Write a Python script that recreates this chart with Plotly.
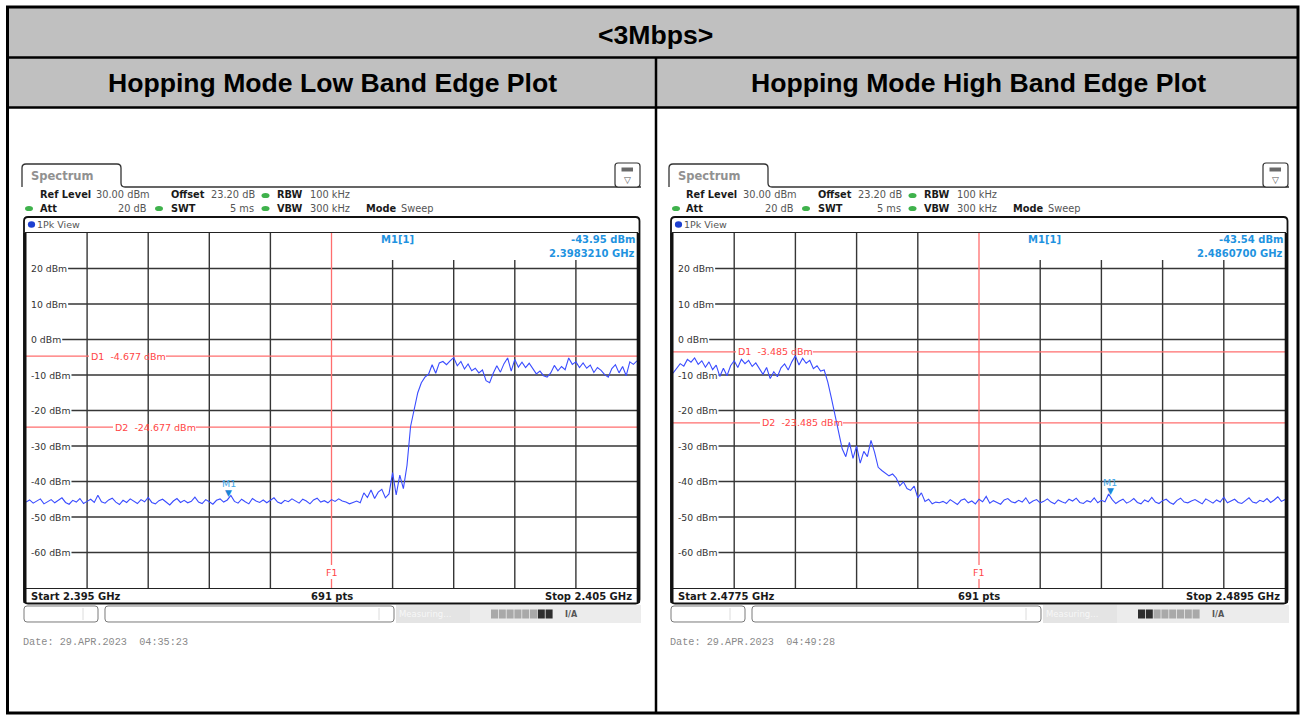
import numpy as np
import plotly.graph_objects as go

W, H = 1300, 715

# ---------------- data ----------------
table_title = "<3Mbps>"
column_titles = ["Hopping Mode Low Band Edge Plot", "Hopping Mode High Band Edge Plot"]

low_span_ghz = [2.395, 2.405]
high_span_ghz = [2.4775, 2.4895]
level_range_dbm = [-70, 30]
y_tick_dbm = [20, 10, 0, -10, -20, -30, -40, -50, -60]

low_levels_dbm = [
    -45.8, -45.2, -46.1, -45.5, -44.9, -46.3, -45.7, -45.1, -46.0, -45.4,
    -44.6, -45.9, -46.4, -45.3, -45.8, -44.8, -46.2, -45.6, -45.0, -45.9,
    -43.9, -45.7, -46.1, -45.2, -44.7, -45.8, -46.5, -45.3, -45.9, -44.9,
    -45.6, -46.2, -45.1, -45.7, -44.5, -45.9, -46.3, -45.4, -45.0, -45.8,
    -46.6, -45.5, -44.8, -45.9, -45.3, -46.0, -45.6, -44.4, -45.8, -46.2,
    -45.1, -45.7, -46.4, -45.3, -44.9, -45.8, -45.2, -43.95,
    -45.6, -46.1, -45.0, -45.7, -46.3, -44.8, -45.5, -45.9, -45.2, -46.0,
    -45.4, -44.6, -45.8, -46.2, -45.3, -45.7, -44.9, -45.6, -46.1, -45.0,
    -45.5, -46.3, -45.2, -44.7, -45.8, -45.4, -46.0, -45.1, -45.6, -44.9, -45.5,
    -45.8, -46.3, -45.9, -45.5, -46.0, -43.2, -44.5, -42.4, -44.8, -43.0, -42.2, -44.6, -43.5,
    -37.5, -43.8, -38.2, -42.0, -35.5, -24.5, -19.6, -15.0, -12.2, -10.6, -9.8, -7.1, -9.5, -6.6,
    -6.2, -7.1, -6.0, -5.1, -7.4, -6.2, -8.3, -6.9, -8.8, -8.1,
    -9.4, -8.6, -11.6, -12.2, -9.5, -7.4, -9.2, -6.8, -5.2, -8.9,
    -5.6, -7.8, -6.4, -7.9, -6.7, -8.4, -9.7, -8.9, -10.2, -10.6,
    -9.4, -7.3, -8.8, -7.6, -8.5, -5.2, -7.0, -6.3, -7.9, -6.6,
    -8.1, -7.2, -9.3, -7.9, -8.7, -9.9, -10.6, -8.2, -7.1, -9.4,
    -7.6, -10.2, -6.3, -7.0, -6.0,
]

high_levels_dbm = [
    -9.5, -8.0, -6.8, -7.5, -5.6, -6.4, -5.2, -7.0, -6.0, -7.8,
    -6.3, -8.5, -7.2, -10.4, -8.1, -10.2, -7.4, -6.0, -7.9, -5.6,
    -6.8, -5.9, -7.6, -6.6, -8.2, -9.8, -7.9, -11.0, -9.1, -10.5,
    -8.0, -6.9, -8.6, -6.3, -4.6, -7.2, -5.3, -6.7, -5.9, -8.2,
    -7.4, -8.9,
    -8.6, -12.0, -16.5, -21.3, -26.2,
    -30.8, -33.0, -29.0, -33.5, -30.0, -34.8, -31.5, -33.0, -28.4, -31.8,
    -36.0, -36.9, -37.6, -38.4, -37.9, -39.0, -41.2, -40.1, -42.0, -42.5,
    -41.3, -44.6, -43.2, -45.6, -45.0, -46.3, -45.8, -46.0,
    -45.6, -46.2, -45.1, -45.8, -46.5, -45.3, -44.9, -46.0, -45.5, -46.3,
    -45.0, -45.7, -44.2, -46.1, -45.4, -45.9, -46.4, -45.2, -44.8, -45.7,
    -46.0, -45.3, -45.8, -44.6, -46.2, -45.5, -45.1, -46.0, -45.6, -44.9,
    -45.8, -46.3, -45.2, -45.7, -46.1, -45.0, -45.5, -44.7, -45.9, -46.2,
    -45.4, -45.8, -44.6, -46.0, -45.3, -45.7, -43.54, -45.1, -46.2, -45.5,
    -45.0, -46.1, -45.6, -44.8, -45.9, -46.3, -45.2, -45.7, -44.5, -45.8,
    -46.2, -45.4, -45.0, -45.9, -46.4, -45.3, -44.7, -45.8, -46.0, -45.5,
    -45.1, -45.7, -46.3, -44.9, -45.6, -46.1, -45.2, -45.8, -44.4, -46.0,
    -45.5, -45.0, -45.9, -46.2, -45.4, -44.6, -45.8, -46.1, -45.3, -45.7,
    -44.8, -45.9, -45.2, -44.3, -45.6, -45.1,
]

low_f1_ghz = 2.400
high_f1_ghz = 2.4835
low_d_lines = [("D1", -4.677), ("D2", -24.677)]
high_d_lines = [("D1", -3.485), ("D2", -23.485)]
low_marker = [2.3983210, -43.95]
high_marker = [2.4860700, -43.54]
low_footer = ["Start 2.395 GHz", "691 pts", "Stop 2.405 GHz"]
high_footer = ["Start 2.4775 GHz", "691 pts", "Stop 2.4895 GHz"]
low_date = "Date: 29.APR.2023  04:35:23"
high_date = "Date: 29.APR.2023  04:49:28"
settings_row1 = [("Ref Level", True), ("30.00 dBm", False), ("Offset", True), ("23.20 dB", False),
                 ("RBW", True), ("100 kHz", False)]
settings_row2 = [("Att", True), ("20 dB", False), ("SWT", True), ("5 ms", False),
                 ("VBW", True), ("300 kHz", False), ("Mode", True), ("Sweep", False)]

# ---------------- styling helpers ----------------
TRACE = "#3a4cff"
GRID = "#363636"
RED = "#ff6e6e"
REDTXT = "#ff4646"
MK = "#1f93e0"
GREEN = "#3fb24c"
FONT = "DejaVu Sans"

DV = {'-': 361, '0': 636, '1': 636, '2': 636, '3': 636, '4': 636, '5': 636, '6': 636,
      '7': 636, '8': 636, '9': 636, ' ': 318, '\u00a0': 318, 'd': 635, 'B': 686, 'm': 974,
      'D': 770, '.': 318}


def tw(s, size):
    return sum(DV.get(c, 600) for c in s) * size / 1000.0


def X(px):
    return px / W


def Y(py):
    return 1 - py / H


shapes = []
annotations = []


def line(x0, y0, x1, y1, color, width, layer="above"):
    shapes.append(dict(type="line", xref="paper", yref="paper", x0=X(x0), y0=Y(y0),
                       x1=X(x1), y1=Y(y1), line=dict(color=color, width=width), layer=layer))


def rect(x0, y0, x1, y1, fill, color=None, width=0, layer="above"):
    shapes.append(dict(type="rect", xref="paper", yref="paper", x0=X(x0), y0=Y(y0),
                       x1=X(x1), y1=Y(y1), fillcolor=fill,
                       line=dict(color=color or "rgba(0,0,0,0)", width=width), layer=layer))


def ellipse(cx, cy, rx, ry, fill):
    shapes.append(dict(type="circle", xref="paper", yref="paper", x0=X(cx - rx), y0=Y(cy - ry),
                       x1=X(cx + rx), y1=Y(cy + ry), fillcolor=fill, line=dict(width=0)))


def P(x, y):
    return f"{X(x):.6f},{Y(y):.6f}"


def rrect(x0, y0, x1, y1, r, fill, color, width, layer="above"):
    p = (f"M{P(x0 + r, y0)} L{P(x1 - r, y0)} Q{P(x1, y0)} {P(x1, y0 + r)} "
         f"L{P(x1, y1 - r)} Q{P(x1, y1)} {P(x1 - r, y1)} L{P(x0 + r, y1)} "
         f"Q{P(x0, y1)} {P(x0, y1 - r)} L{P(x0, y0 + r)} Q{P(x0, y0)} {P(x0 + r, y0)} Z")
    shapes.append(dict(type="path", xref="paper", yref="paper", path=p,
                       fillcolor=fill or "rgba(0,0,0,0)",
                       line=dict(color=color, width=width), layer=layer))


def text(px, py, s, size=9.8, color="#222", bold=False, anchor="left", family=FONT, bg=None):
    d = dict(xref="paper", yref="paper", x=X(px), y=Y(py), text=s, showarrow=False,
             xanchor=anchor, yanchor="middle", borderpad=0,
             font=dict(family=family, size=size, color=color,
                       weight="bold" if bold else "normal"))
    if bg:
        d["bgcolor"] = bg
    annotations.append(d)


fig = go.Figure()

# ---------------- table frame ----------------
rect(8, 8, 1298, 108, "#c0c0c0", layer="below")
rect(7.5, 7, 1298, 713, "rgba(0,0,0,0)", "#000", 3)
line(8, 57.5, 1298, 57.5, "#000", 2.5)
line(8, 107.5, 1298, 107.5, "#000", 2.5)
line(656, 57.5, 656, 713, "#000", 2.5)
text(655, 35, table_title.replace("<", "&lt;").replace(">", "&gt;"), 26.6, "#000", True, "center",
     "Liberation Sans")
text(332, 83, column_titles[0], 26.6, "#000", True, "center", "Liberation Sans")
text(978, 83, column_titles[1], 26.6, "#000", True, "center", "Liberation Sans")

GY0, GY1 = 233, 588


def screen(idx, dx, gx0, gx1, span, levels, f1, dls, marker, footer, date, dark_first):
    xa = "x" if idx == 0 else "x2"
    ya = "y" if idx == 0 else "y2"
    gw = gx1 - gx0
    gh = GY1 - GY0

    def fx(px):
        return (px - gx0) / gw

    def fy(py):
        return (GY1 - py) / gh

    freqs = np.linspace(span[0], span[1], len(levels))
    fig.add_trace(go.Scatter(x=freqs, y=levels, mode="lines", xaxis=xa, yaxis=ya,
                             line=dict(color=TRACE, width=1.1), hoverinfo="skip",
                             showlegend=False))

    # ---- grid (drawn as shapes below the trace) ----
    step = (span[1] - span[0]) / 10
    for k in range(1, 10):
        xv = span[0] + k * step
        if abs(xv - f1) < step * 0.05:
            continue
        top = fy(260) if (k / 10) * gw > 309 else 1
        shapes.append(dict(type="line", xref=xa, yref=f"{ya} domain", x0=xv, x1=xv,
                           y0=0, y1=top, line=dict(color=GRID, width=1.4), layer="below"))
    for v in y_tick_dbm:
        lab = f"{v} dBm"
        wdt = tw(lab, 9.3)
        shapes.append(dict(type="line", xref=f"{xa} domain", yref=ya, x0=fx(gx0 + 6 + wdt),
                           x1=1, y0=v, y1=v, line=dict(color=GRID, width=1.4), layer="below"))
        annotations.append(dict(xref="paper", yref=ya, x=X(gx0 + 4), y=v, text=lab,
                                showarrow=False, xanchor="left", yanchor="middle",
                                borderpad=0, font=dict(family=FONT, size=9.3, color="#333")))

    # display lines D1 / D2
    for (name, val), off in zip(dls, (64, 88)):
        lab = f"{name}\u00a0\u00a0{val:.3f} dBm"
        wdt = tw(lab, 9.5)
        for a, b in ((0, fx(gx0 + off - 1)), (fx(gx0 + off + wdt + 1), 1)):
            shapes.append(dict(type="line", xref=f"{xa} domain", yref=ya, x0=a, x1=b,
                               y0=val, y1=val, line=dict(color=RED, width=1.3),
                               layer="below"))
        annotations.append(dict(xref=f"{xa} domain", yref=ya, x=fx(gx0 + off), y=val,
                                text=lab, showarrow=False, xanchor="left", yanchor="middle",
                                borderpad=0, font=dict(family=FONT, size=9.5, color=REDTXT)))

    # frequency line F1
    for a, b in ((0, fy(579)), (fy(565), 1)):
        shapes.append(dict(type="line", xref=xa, yref=f"{ya} domain", x0=f1, x1=f1,
                           y0=a, y1=b, line=dict(color=RED, width=1.3), layer="below"))
    annotations.append(dict(xref=xa, yref=f"{ya} domain", x=f1, y=fy(572), text="F1",
                            showarrow=False, xanchor="center", yanchor="middle", borderpad=0,
                            font=dict(family=FONT, size=9.5, color=REDTXT)))

    # tab + header line
    p = (f"M{P(dx + 22, 187)} L{P(dx + 22, 168)} Q{P(dx + 22, 164)} {P(dx + 26, 164)} "
         f"L{P(dx + 117, 164)} Q{P(dx + 121, 164)} {P(dx + 121, 168)} L{P(dx + 121, 183)} "
         f"Q{P(dx + 121, 187)} {P(dx + 125, 187)} L{P(gx1 + 4, 187)}")
    shapes.append(dict(type="path", xref="paper", yref="paper", path=p,
                       line=dict(color="#333", width=1.3)))
    text(dx + 30, 175.5, "Spectrum", 11.5, "#919191", True)
    # icon
    rrect(gx1 - 22, 163, gx1 + 3, 187, 3, "#fff", "#333", 1.2)
    rect(gx1 - 15.5, 167.5, gx1 - 4, 171.5, "#6a6a6a")
    text(gx1 - 9.5, 179.5, "\u25bd", 9, "#555", False, "center")

    # settings rows
    x1pos = [38.5, 95, 170, 210, 276, 309]
    for (s, b), xp in zip(settings_row1, x1pos):
        text(dx + xp, 195, s, 9.8, "#1a1a1a" if b else "#555", b)
    x2pos = [(38.5, "left"), (148, "right"), (170, "left"), (255, "right"),
             (276, "left"), (309, "left"), (365, "left"), (400, "left")]
    for (s, b), (xp, an) in zip(settings_row2, x2pos):
        text(dx + xp, 208, s, 9.8, "#1a1a1a" if b else "#555", b, an)
    ellipse(dx + 265.5, 195.5, 4, 2.6, GREEN)
    for gxp in (29, 159, 265.5):
        ellipse(dx + gxp, 208.5, 4, 2.6, GREEN)

    # trace window box
    rrect(gx0 - 2, 217, gx1 + 2.5, 603.5, 4, None, "#111", 1.8)
    line(gx0 - 1, 233, gx0 - 1, 603, "#111", 3)
    line(gx1 + 1.2, 233, gx1 + 1.2, 603, "#111", 3)
    ellipse(dx + 31.5, 224.5, 3.6, 3.2, "#1d3fd0")
    text(dx + 36, 224.5, "1Pk View", 9.5, "#555")

    # marker readout
    text(gx0 + 371.5, 240, "M1[1]", 10, MK, True, "center")
    text(gx1 - 1.5, 240, f"{marker[1]:.2f} dBm", 10, MK, True, "right")
    text(gx1 - 1.5, 253, f"{marker[0]:.7f} GHz", 10, MK, True, "right")

    # marker M1
    annotations.append(dict(xref=xa, yref=ya, x=marker[0], y=marker[1], text="\u25bc",
                            showarrow=False, xanchor="center", yanchor="bottom", yshift=-3,
                            borderpad=0, font=dict(family=FONT, size=9, color="#1a86d6")))
    annotations.append(dict(xref=xa, yref=ya, x=marker[0], y=marker[1], text="M1",
                            showarrow=False, xanchor="center", yanchor="middle", yshift=12,
                            borderpad=0, font=dict(family=FONT, size=9.5, color="#45a8ea")))

    # footer of the window
    text(gx0 + 4, 596, footer[0], 10, "#1a1a1a", True, "left")
    text((gx0 + gx1) / 2, 596, footer[1], 10, "#1a1a1a", True, "center")
    text(gx1 - 4, 596, footer[2], 10, "#1a1a1a", True, "right")

    # status bar
    rrect(dx + 24, 606, dx + 98, 622, 3, "#fff", "#7a7a7a", 1)
    line(dx + 83, 608, dx + 83, 620, "#dcdcdc", 1)
    rrect(dx + 105, 606, dx + 394, 622, 3, "#fff", "#7a7a7a", 1)
    line(dx + 379, 608, dx + 379, 620, "#dcdcdc", 1)
    rect(dx + 396, 605, gx1 + 4, 623, "#ececec")
    rect(dx + 396, 605, dx + 470, 623, "#e4e4e4")
    text(dx + 398, 614, "Measuring...", 8.5, "#f7f7f7")
    for s in range(8):
        sx = dx + 491 + s * 7.8
        dark = (s >= 6) if not dark_first else (s < 2)
        rect(sx, 609.5, sx + 7, 618.5, "#2e2e2e" if dark else "#a9a9a9")
    text(dx + 571, 614, "I/A", 8, "#555", True, "center")

    # date
    text(dx + 22, 642, date.replace("  ", "\u00a0\u00a0"), 10.2, "#8a8a8a", False, "left",
         "Liberation Mono")

    axis_common = dict(showgrid=False, zeroline=False, showticklabels=False, ticks="",
                       showline=True, mirror=True, linecolor="#222", linewidth=1,
                       fixedrange=True)
    fig.layout[("xaxis" if idx == 0 else "xaxis2")] = dict(
        domain=[X(gx0), X(gx1)], range=span, anchor=ya, **axis_common)
    fig.layout[("yaxis" if idx == 0 else "yaxis2")] = dict(
        domain=[Y(GY1), Y(GY0)], range=level_range_dbm, anchor=xa, **axis_common)


screen(0, 0, 26, 637, low_span_ghz, low_levels_dbm, low_f1_ghz, low_d_lines, low_marker,
       low_footer, low_date, False)
screen(1, 647, 673, 1285, high_span_ghz, high_levels_dbm, high_f1_ghz, high_d_lines,
       high_marker, high_footer, high_date, True)

fig.update_layout(width=W, height=H, margin=dict(l=0, r=0, t=0, b=0, pad=0),
                  paper_bgcolor="#fff", plot_bgcolor="rgba(0,0,0,0)", showlegend=False,
                  shapes=shapes, annotations=annotations)

fig.write_html("out.html", config={"displayModeBar": False},
               post_script="document.body.style.margin='0';document.body.style.overflow='hidden';")
